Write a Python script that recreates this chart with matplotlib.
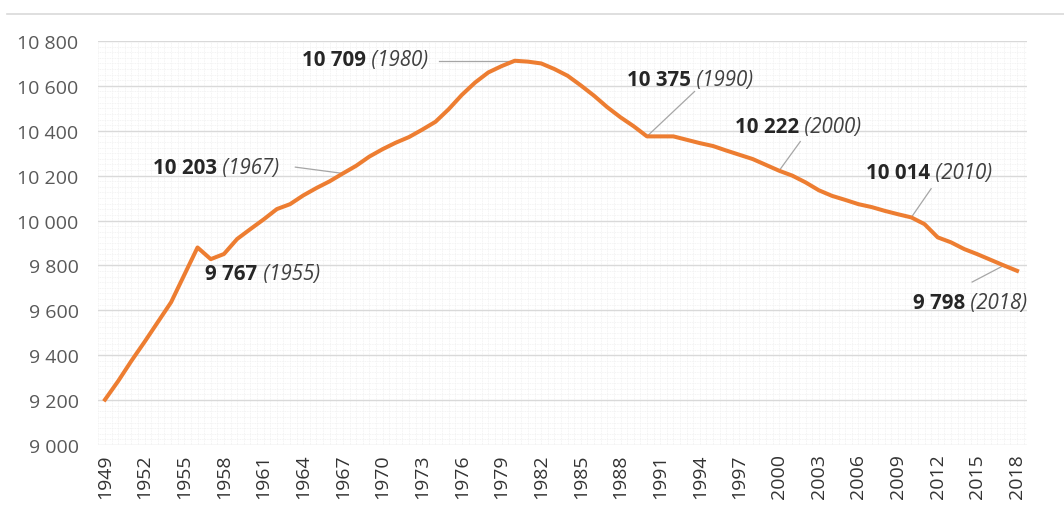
import matplotlib.pyplot as plt
from matplotlib.lines import Line2D
from matplotlib.ticker import MultipleLocator, FuncFormatter

plt.rcParams['font.family'] = ['Open Sans', 'DejaVu Sans']

years = list(range(1949, 2019))
values = [9202, 9285, 9375, 9460, 9548, 9636, 9758, 9880, 9828, 9851,
          9918, 9962, 10005, 10051, 10073, 10112, 10145, 10175, 10210, 10244,
          10285, 10318, 10347, 10372, 10405, 10440, 10496, 10560, 10615, 10660,
          10688, 10712, 10708, 10700, 10675, 10645, 10602, 10556, 10505, 10460,
          10420, 10375, 10375, 10375, 10360, 10345, 10332, 10312, 10293, 10274,
          10248, 10222, 10200, 10170, 10135, 10110, 10092, 10073, 10060, 10043,
          10028, 10014, 9984, 9925, 9903, 9873, 9850, 9825, 9800, 9776]

# annotations: number, year label, text position (data coords), leader start, leader target year
ann_numbers = ['10 709', '10 203', '9 767', '10 375', '10 222', '10 014', '9 798']
ann_years = ['1980', '1967', '1955', '1990', '2000', '2010', '2018']
ann_text_pos = [(1963.9, 10719), (1952.6, 10238), (1956.6, 9766), (1988.5, 10630),
                (1996.65, 10421), (2006.6, 10216), (2010.1, 9637)]
ann_leader_from = [(1974.3, 10712), (1963.4, 10238), None, (1993.6, 10575),
                   (2001.6, 10352), (2011.5, 10142), (2014.6, 9726)]
ann_leader_to = [1980, 1967, None, 1990, 2000, 2010, 2017]

fig = plt.figure(figsize=(10.64, 5.06), dpi=100)
ax = fig.add_axes([0.0921, 0.1186, 0.8731, 0.7984])

ax.set_xlim(1948.47, 2018.75)
ax.set_ylim(9000, 10800)

ax.yaxis.set_major_locator(MultipleLocator(200))
ax.yaxis.set_minor_locator(MultipleLocator(25))
ax.xaxis.set_minor_locator(MultipleLocator(0.5))
ax.set_xticks(years[::3])
ax.yaxis.set_major_formatter(FuncFormatter(lambda v, p: f"{v:,.0f}".replace(",", " ")))

ax.grid(which='minor', color='#f0f0f0', lw=0.6, linestyle=(0, (1, 1)))
ax.grid(which='major', axis='y', color='#d9d9d9', lw=1.0)
ax.grid(which='major', axis='x', color='#f0f0f0', lw=0.6, linestyle=(0, (1, 1)))
ax.set_axisbelow(True)

for s in ax.spines.values():
    s.set_visible(False)
ax.tick_params(which='both', length=0)
ax.tick_params(axis='y', pad=14, labelsize=14, labelcolor='#595959')
ax.tick_params(axis='x', pad=6, labelsize=14, labelcolor='#333333', rotation=90)

ax.plot(years, values, color='#ED7D31', lw=2.9, solid_joinstyle='round', zorder=3)

for num, yr, pos, start, target in zip(ann_numbers, ann_years, ann_text_pos,
                                       ann_leader_from, ann_leader_to):
    t1 = ax.text(pos[0], pos[1], num, fontsize=14.8, fontweight='bold',
                 color='#262626', va='center', ha='left', zorder=4)
    ax.annotate(' (' + yr + ')', xy=(1, 0), xycoords=t1, va='bottom', ha='left',
                fontsize=14.8, fontstyle='italic', color='#404040', zorder=4)
    if start is not None:
        ty = values[years.index(target)]
        ax.plot([start[0], target], [start[1], ty], color='#a6a6a6', lw=0.9, zorder=2)

fig.add_artist(Line2D([7 / 1064, 1], [1 - 15 / 506, 1 - 15 / 506],
                      color='#d9d9d9', lw=1.2))

fig.savefig('out.png', dpi=100)
